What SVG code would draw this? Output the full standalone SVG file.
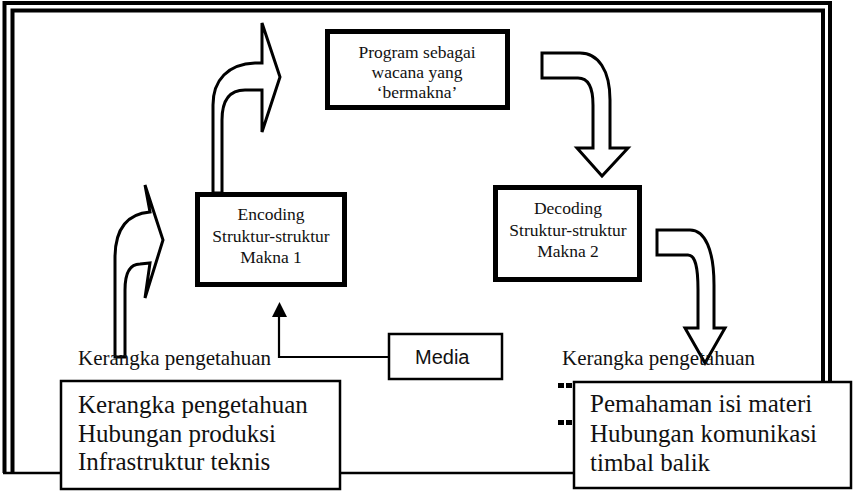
<svg xmlns="http://www.w3.org/2000/svg" width="853" height="493" viewBox="0 0 853 493">
<defs>
<style>
.frame{fill:none;stroke:#000;stroke-width:4}
.node{fill:#fff;stroke:#000;stroke-width:5}
.box{fill:#fff;stroke:#000;stroke-width:2.5}
.arr{fill:#fff;stroke:#000;stroke-width:3;stroke-linejoin:miter}
.serif{font-family:"Liberation Serif","Times New Roman",serif;fill:#111}
.nt{font-size:17.5px;text-anchor:middle}
.lbl{font-size:21px}
.big{font-size:25px}
.sans{font-family:"Liberation Sans",Arial,sans-serif;font-size:20px;fill:#111}
</style>
</defs>
<rect width="853" height="493" fill="#fff"/>
<g id="frame">
<path class="frame" d="M4.5,473 L4.5,3 L830,3 L830,382"/>
<path class="frame" d="M12.5,473 L12.5,10.5 L823,10.5 L823,382"/>
<line x1="3" y1="473" x2="830" y2="473" stroke="#000" stroke-width="2.5"/>
</g>
<g id="connectors">
<path class="arr" d="M115,357 L115,258 C115,232 125,214 150,212 L145,185 L163,240 L145,298 L150,263 L140,264 C131,264 125,272 125,290 L125,357 Z"/>
<path class="arr" d="M213,193 L213,105 C213,80 228,64 255,63 L262,63 L262,23 L280,77 L262,132 L262,90 L245,90 C230,90 222,100 222,120 L222,193 Z"/>
<path class="arr" d="M542,53 L580,53 C598,53 610,70 610,100 L610,148 L628,148 L602,176 L577,148 L593,148 L593,105 C593,88 588,78 578,78 L542,78 Z"/>
<path class="arr" d="M657,230 L690,230 C705,230 714,250 714,285 L714,328 L725,328 L705,363 L685,328 L698,328 L698,290 C698,266 695,255 688,255 L657,255 Z"/>
<polyline points="388,357 279,357 279,315" fill="none" stroke="#000" stroke-width="2.2"/>
<polygon points="272,317 287,317 279.5,302" fill="#000"/>
</g>
<g id="program">
<rect class="node" x="327.5" y="31.5" width="180" height="76"/>
<text class="serif nt" x="417" y="58">Program sebagai</text>
<text class="serif nt" x="417" y="78">wacana yang</text>
<text class="serif nt" x="417" y="98">‘bermakna’</text>
</g>
<g id="encoding">
<rect class="node" x="197.5" y="194.5" width="147" height="90"/>
<text class="serif nt" x="271" y="220">Encoding</text>
<text class="serif nt" x="271" y="242">Struktur-struktur</text>
<text class="serif nt" x="271" y="263">Makna 1</text>
</g>
<g id="decoding">
<rect class="node" x="495.5" y="187.5" width="144" height="92"/>
<text class="serif nt" x="568" y="214">Decoding</text>
<text class="serif nt" x="568" y="236">Struktur-struktur</text>
<text class="serif nt" x="568" y="257">Makna 2</text>
</g>
<g id="media">
<rect class="box" x="389" y="334" width="113" height="45"/>
<text class="sans" x="415" y="364">Media</text>
</g>
<g id="label-left">
<text class="serif lbl" x="78" y="365">Kerangka pengetahuan</text>
</g>
<g id="label-right">
<text class="serif lbl" x="562" y="365">Kerangka pengetahuan</text>
</g>
<g id="bullets">
<rect x="558" y="383" width="6" height="5" fill="#000"/>
<rect x="566" y="383" width="6" height="5" fill="#000"/>
<rect x="558" y="420" width="6" height="5" fill="#000"/>
<rect x="566" y="420" width="6" height="5" fill="#000"/>
</g>
<g id="box-left">
<rect class="box" x="61" y="381" width="279" height="108"/>
<text class="serif big" x="78" y="413">Kerangka pengetahuan</text>
<text class="serif big" x="78" y="442">Hubungan produksi</text>
<text class="serif big" x="78" y="470">Infrastruktur teknis</text>
</g>
<g id="box-right">
<rect class="box" x="574" y="382" width="277" height="106"/>
<text class="serif big" x="590" y="412">Pemahaman isi materi</text>
<text class="serif big" x="590" y="442">Hubungan komunikasi</text>
<text class="serif big" x="590" y="471">timbal balik</text>
</g>
</svg>
